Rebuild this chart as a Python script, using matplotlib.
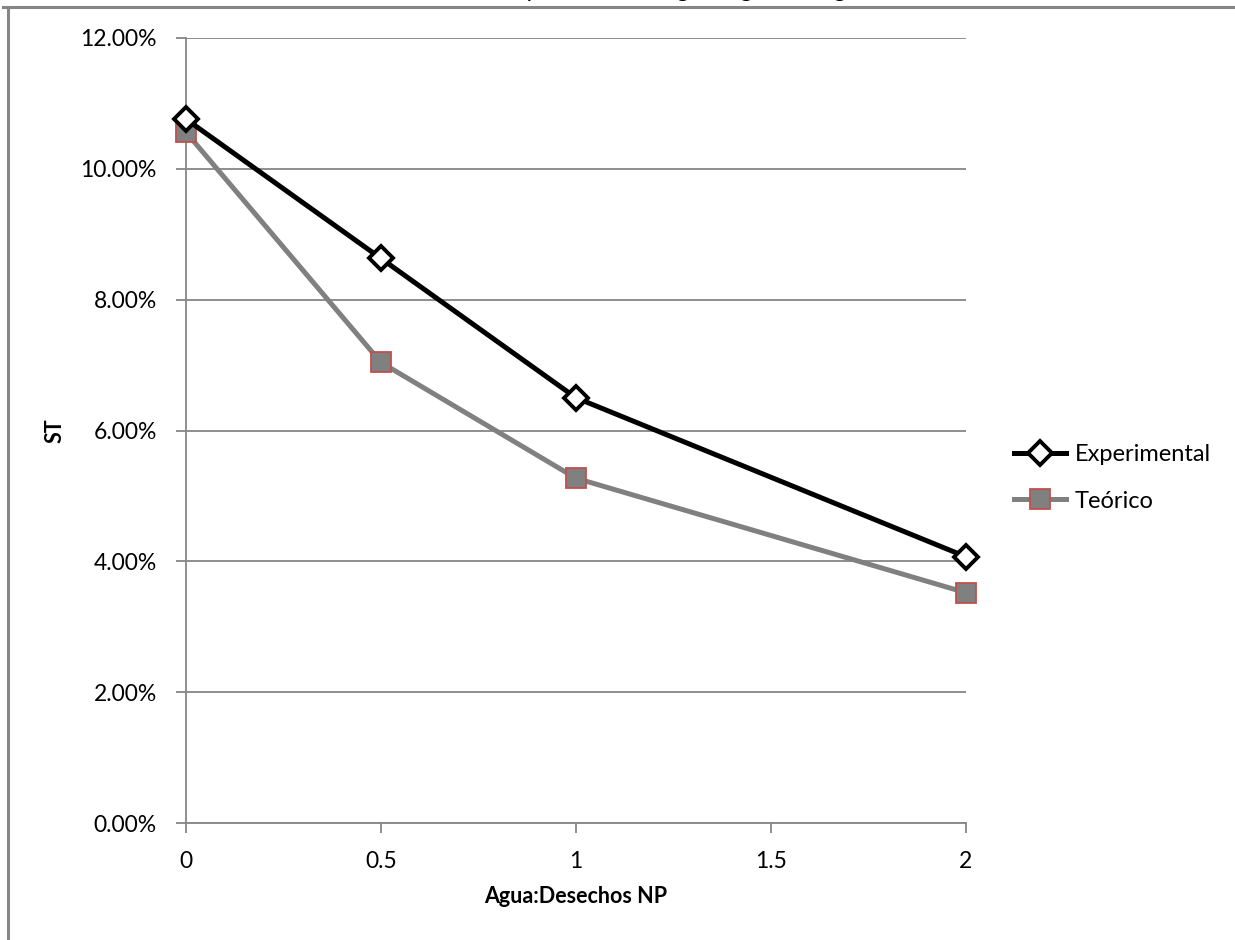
import matplotlib
matplotlib.use("Agg")
import matplotlib.pyplot as plt
from matplotlib.lines import Line2D
from matplotlib.ticker import FuncFormatter, MultipleLocator

plt.rcParams['font.family'] = ['Lato', 'DejaVu Sans']

x_vals = [0, 0.5, 1, 2]
experimental = [0.1076, 0.0863, 0.0650, 0.0407]
teorico = [0.1056, 0.0704, 0.0527, 0.0352]
series_names = ["Experimental", "Teórico"]
x_label = "Agua:Desechos NP"
y_label = "ST"
title = "Comparación ST según digestión agua"

fig = plt.figure(figsize=(12.35, 9.4), dpi=100)
ax = fig.add_axes([186/1235, 1-823/940, (966-186)/1235, (823-38)/940])

grid_c = "#868686"
ax.plot(x_vals, experimental, color="black", lw=3.6, marker="D", ms=12.5,
        mfc="white", mec="black", mew=2.8, label=series_names[0], zorder=4, clip_on=False)
ax.plot(x_vals, teorico, color="#808080", lw=3.6, marker="s", ms=14,
        mfc="#808080", mec="#C0504D", mew=1.3, label=series_names[1], zorder=3, clip_on=False)

ax.set_xlim(0, 2)
ax.set_ylim(0, 0.12)
ax.xaxis.set_major_locator(MultipleLocator(0.5))
ax.yaxis.set_major_locator(MultipleLocator(0.02))
ax.xaxis.set_major_formatter(FuncFormatter(lambda v, p: f"{v:g}"))
ax.yaxis.set_major_formatter(FuncFormatter(lambda v, p: f"{v*100:.2f}%"))
ax.grid(axis="y", color=grid_c, lw=1.3)
ax.set_axisbelow(True)
for s in ["top", "right"]:
    ax.spines[s].set_visible(False)
for s in ["left", "bottom"]:
    ax.spines[s].set_color(grid_c)
    ax.spines[s].set_linewidth(1.3)
ax.tick_params(axis="both", colors=grid_c, length=7, width=1.3, labelcolor="black", labelsize=16.5)
ax.tick_params(axis="y", pad=14)
ax.tick_params(axis="x", pad=13)

ax.set_xlabel(x_label, fontsize=15.5, fontweight="bold", labelpad=10)
ax.set_ylabel(y_label, fontsize=15.5, fontweight="bold", labelpad=11)

leg = fig.legend(loc="upper left", bbox_to_anchor=(993/1235, 1-423/940), frameon=False,
                 fontsize=17, handlelength=2.2, labelspacing=1.08, handletextpad=0.35)

fig.add_artist(Line2D([3/1235, 1], [1-7/940, 1-7/940], color=grid_c, lw=2.2))
fig.add_artist(Line2D([8/1235, 8/1235], [0, 1-7/940], color=grid_c, lw=2.2))
fig.text(478/1235, 1+2.8/940, title, ha="left", va="baseline", fontsize=17)

fig.savefig("out.png", dpi=100)
